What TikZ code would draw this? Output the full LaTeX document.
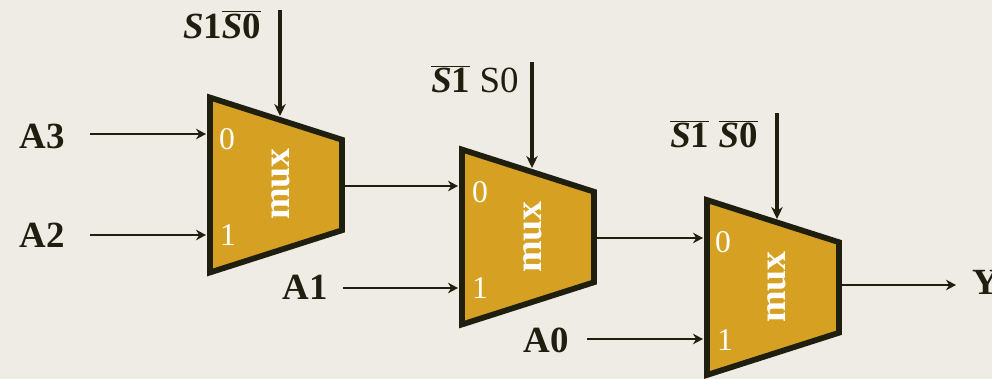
\documentclass[tikz,border=0pt]{standalone}
\usepackage{fontspec}
\setmainfont{Liberation Serif}
\usetikzlibrary{shapes.geometric, arrows.meta}
\definecolor{paper}{HTML}{EEECE4}
\definecolor{muxfill}{HTML}{D6A122}
\definecolor{ink}{HTML}{1F1F10}
\tikzstyle{muxbody} = [trapezium, trapezium stretches=true, trapezium angle=65, rotate=90, shape border rotate=180, minimum width=3.5cm, minimum height=2.64cm, outer sep=0pt, draw=ink, line width=0.115cm, fill=muxfill]
\tikzstyle{muxtext} = [rotate=90, text=white, font=\fontsize{21.6}{24}\selectfont\bfseries]
\tikzstyle{pin} = [text=white, font=\fontsize{18}{20}\selectfont]
\tikzstyle{sig} = [text=ink, inner sep=0pt, font=\fontsize{21}{24}\selectfont\bfseries]
\tikzstyle{arrow} = [line width=0.055cm,-{Stealth[length=0.2cm,width=0.21cm]},draw=ink]
\tikzstyle{selarrow} = [line width=0.07cm,-{Stealth[length=0.24cm,width=0.23cm]},draw=ink]
\newcommand{\notsig}[1]{$\overline{\mbox{#1}}$}
\begin{document}
\begin{tikzpicture}[x=0.02cm, y=-0.02cm]
        \fill [paper] (0,0) rectangle (992,379);
        \useasboundingbox (0,0) rectangle (992,379);

        \node (m1) [muxbody] at (276,185) {};
          \node (m1t) [muxtext] at (281,184) {mux};
          \node (m1p0) [pin] at (227,139) {0};
          \node (m1p1) [pin] at (228,235) {1};
        \node (m2) [muxbody] at (528,237) {};
          \node (m2t) [muxtext] at (533,237) {mux};
          \node (m2p0) [pin] at (480,192) {0};
          \node (m2p1) [pin] at (480,288) {1};
        \node (m3) [muxbody] at (773,287.5) {};
          \node (m3t) [muxtext] at (777,287) {mux};
          \node (m3p0) [pin] at (723,242) {0};
          \node (m3p1) [pin] at (725,340) {1};

        \node (a3) [sig] at (42,136) {A3};
        \node (a2) [sig] at (42,235) {A2};
        \node (a1) [sig] at (305,287) {A1};
        \node (a0) [sig] at (546,340) {A0};
        \node (y) [sig] at (986,282) {Y};

        \node (s1) [sig] at (222,25) {\textit{S}1\notsig{\textit{S}0}};
        \node (s2) [sig] at (475,79) {\notsig{\textit{S}1} \mdseries S0};
        \node (s3) [sig] at (714,134) {\notsig{\textit{S}1} \notsig{\textit{S}0}};

        \coordinate (m1i0) at (206,134);
        \coordinate (m1i1) at (206,235);
        \coordinate (m2i0) at (458,186);
        \coordinate (m2i1) at (458,288);
        \coordinate (m3i0) at (703,238);
        \coordinate (m3i1) at (703,339);
        \coordinate (yend) at (956,285);
        \coordinate (c1a) at (280,10);
        \coordinate (c1b) at (280,116);
        \coordinate (c2a) at (532,62);
        \coordinate (c2b) at (532,168);
        \coordinate (c3a) at (777,113);
        \coordinate (c3b) at (777,219);

        \draw [arrow, shorten <=25*0.02cm] (a3.east |- m1i0) -- (m1i0);
        \draw [arrow, shorten <=25*0.02cm] (a2.east |- m1i1) -- (m1i1);
        \draw [arrow, shorten <=15*0.02cm] (a1.east |- m2i1) -- (m2i1);
        \draw [arrow, shorten <=18*0.02cm] (a0.east |- m3i1) -- (m3i1);
        \draw [arrow] (m1.south |- m2i0) -- (m2i0);
        \draw [arrow] (m2.south |- m3i0) -- (m3i0);
        \draw [arrow] (m3.south |- yend) -- (yend);
        \draw [selarrow] (c1a) -- (c1b);
        \draw [selarrow] (c2a) -- (c2b);
        \draw [selarrow] (c3a) -- (c3b);
      \end{tikzpicture}
\end{document}
